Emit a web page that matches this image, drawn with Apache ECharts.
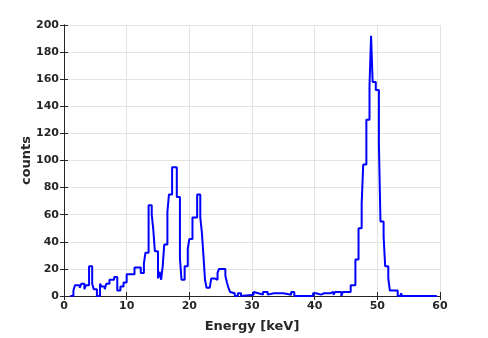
<!DOCTYPE html>
<html>
<head>
<meta charset="utf-8">
<script src="https://cdn.jsdelivr.net/npm/echarts@6/dist/echarts.min.js"></script>
<style>html,body{margin:0;padding:0;background:#fff;}#c{width:488px;height:338px;}</style>
</head>
<body>
<div id="c"></div>
<script>
// Step histogram: each count holds from its edge to the next edge (keV)
const edges = [1.0, 1.5, 1.75, 2.5, 2.75, 3.25, 3.5, 4.0, 4.5, 4.75, 5.25, 5.75, 6.0, 6.5, 6.75, 7.25, 8.0, 8.5, 9.0, 9.5, 10.0, 11.25, 12.25, 12.75, 13.0, 13.5, 14.0, 14.25, 14.5, 15.0, 15.25, 15.5, 15.75, 16.0, 16.5, 16.75, 17.25, 18.0, 18.5, 18.75, 19.25, 19.75, 20.0, 20.5, 21.25, 21.75, 22.0, 22.25, 22.5, 22.75, 23.25, 23.5, 24.0, 24.5, 24.75, 25.75, 26.0, 26.25, 26.5, 26.75, 27.25, 27.75, 28.25, 28.5, 30.25, 30.5, 31.0, 31.75, 32.5, 32.75, 33.5, 33.75, 34.25, 34.5, 35.0, 36.25, 36.75, 39.75, 40.25, 41.0, 41.5, 41.75, 42.5, 43.0, 43.25, 44.25, 44.5, 45.75, 46.5, 47.0, 47.5, 47.75, 48.25, 48.75, 49.0, 49.25, 49.75, 50.25, 50.5, 51.0, 51.25, 51.75, 52.0, 53.25, 53.75, 54.0, 59.5];
const counts = [0, 4, 8, 6, 9, 5, 8, 22, 9, 5, 0, 9, 7, 5, 9, 12, 14, 4, 7, 10, 16, 21, 17, 24, 32, 67, 60, 49, 33, 13, 18, 12, 22, 38, 62, 75, 95, 73, 28, 12, 22, 35, 42, 58, 75, 58, 47, 30, 12, 6, 7, 13, 12, 17, 20, 15, 10, 6, 3, 2, 0, 2, 0, 1, 3, 2, 1, 3, 1, 2, 1, 2, 1, 2, 1, 3, 0, 2, 1, 2, 1, 2, 3, 1, 3, 0, 3, 8, 27, 50, 68, 97, 130, 155, 192, 158, 152, 112, 55, 44, 22, 13, 4, 0, 2, 0, 0];
const xTicks = [0, 10, 20, 30, 40, 50, 60];
const yTicks = [0, 20, 40, 60, 80, 100, 120, 140, 160, 180, 200];
const xTitle = 'Energy [keV]';
const yTitle = 'counts';

const axisColor = '#262626';
const gridColor = '#e3e3e3';
const font = 'DejaVu Sans';
const data = edges.map((e, i) => [e, counts[i]]);

const baseAxis = {
  axisLine: {show: true, lineStyle: {color: axisColor, width: 1}},
  axisTick: {show: true, inside: true, length: 4, lineStyle: {color: axisColor}},
  splitLine: {show: false}
};
const chart = echarts.init(document.getElementById('c'), null, {renderer: 'canvas'});
chart.setOption({
  animation: false,
  backgroundColor: '#fff',
  grid: {left: 64, top: 25, width: 376, height: 275},
  xAxis: [
    Object.assign({}, baseAxis, {
      type: 'value', min: xTicks[0], max: xTicks[xTicks.length - 1], interval: 10, position: 'bottom',
      name: xTitle, nameLocation: 'middle', nameGap: 24, nameMoveOverlap: false,
      nameTextStyle: {color: axisColor, fontFamily: font, fontWeight: 'bold', fontSize: 13},
      axisLabel: {color: axisColor, fontFamily: font, fontWeight: 'bold', fontSize: 11, margin: 5},
      splitLine: {show: true, lineStyle: {color: gridColor, width: 1}}
    }),
    Object.assign({}, baseAxis, {
      type: 'value', min: xTicks[0], max: xTicks[xTicks.length - 1], interval: 10, position: 'top',
      axisLabel: {show: false}
    })
  ],
  yAxis: [
    Object.assign({}, baseAxis, {
      type: 'value', min: yTicks[0], max: yTicks[yTicks.length - 1], interval: 20, position: 'left',
      name: yTitle, nameLocation: 'middle', nameGap: 31, nameMoveOverlap: false,
      nameTextStyle: {color: axisColor, fontFamily: font, fontWeight: 'bold', fontSize: 13},
      axisLabel: {color: axisColor, fontFamily: font, fontWeight: 'bold', fontSize: 11, margin: 5},
      splitLine: {show: true, lineStyle: {color: gridColor, width: 1}}
    }),
    Object.assign({}, baseAxis, {
      type: 'value', min: yTicks[0], max: yTicks[yTicks.length - 1], interval: 20, position: 'right',
      axisLabel: {show: false}
    })
  ],
  series: [{
    type: 'line',
    step: 'end',
    data: data,
    showSymbol: false,
    symbol: 'none',
    clip: false,
    lineStyle: {color: '#0000ff', width: 2},
    z: 5
  }]
});
</script>
</body>
</html>
